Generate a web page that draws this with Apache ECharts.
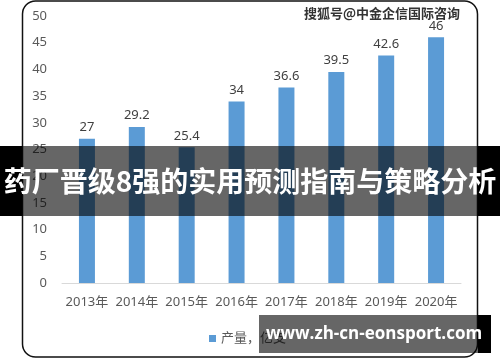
<!DOCTYPE html>
<html>
<head>
<meta charset="utf-8">
<script src="https://cdn.jsdelivr.net/npm/echarts@6/dist/echarts.min.js"></script>
<style>html,body{margin:0;padding:0;background:#fff;}#c{width:500px;height:362px;}</style>
</head>
<body>
<div id="c"></div>
<script>
var categories = ['2013年','2014年','2015年','2016年','2017年','2018年','2019年','2020年'];
var seriesName = '产量，亿支';
var values = [27, 29.2, 25.4, 34, 36.6, 39.5, 42.6, 46];
var yMin = 0, yMax = 50, yStep = 5;
var bannerText = '药厂晋级8强的实用预测指南与策略分析';
var watermarkText = '搜狐号@中金企信国际咨询';
var siteText = 'www.zh-cn-eonsport.com';

var FONT = '"Noto Sans", "Noto Sans CJK SC", sans-serif';
var chart = echarts.init(document.getElementById('c'), null, {renderer: 'canvas'});
chart.setOption({
  animation: false,
  backgroundColor: '#fff',
  textStyle: {fontFamily: FONT},
  grid: {left: 62, right: 39, top: 16, bottom: 79, containLabel: false},
  legend: {
    data: [seriesName], left: 204, top: 327, icon: 'rect', itemWidth: 7, itemHeight: 7, itemGap: 4,
    textStyle: {color: '#595959', fontSize: 13, fontFamily: FONT}
  },
  xAxis: {
    type: 'category', data: categories,
    axisLine: {lineStyle: {color: '#d9d9d9', width: 1}},
    axisTick: {show: false},
    axisLabel: {color: '#595959', fontSize: 13, margin: 13, interval: 0, fontFamily: FONT}
  },
  yAxis: {
    type: 'value', min: yMin, max: yMax, interval: yStep,
    axisLine: {show: false}, axisTick: {show: false}, splitLine: {show: false},
    axisLabel: {color: '#595959', fontSize: 13, margin: 15, fontFamily: FONT}
  },
  series: [{
    name: seriesName, type: 'bar', data: values, barWidth: 16,
    itemStyle: {color: '#5B9BD5'},
    label: {show: true, position: 'top', color: '#404040', fontSize: 13, distance: 5, fontFamily: FONT}
  }],
  graphic: [
    {type: 'rect', shape: {x: 22.5, y: 1, width: 455, height: 356, r: 13}, style: {fill: 'none', stroke: '#111', lineWidth: 1.5}, z: 100},
    {type: 'text', left: 303, top: 6, style: {text: watermarkText, fill: '#333', font: 'bold 13px "Noto Sans CJK SC"', stroke: '#fff', lineWidth: 2}, z: 100},
    {type: 'rect', shape: {x: 0, y: 146, width: 22, height: 70}, style: {fill: '#000'}, z: 101},
    {type: 'rect', shape: {x: 478, y: 146, width: 22, height: 70}, style: {fill: '#000'}, z: 101},
    {type: 'rect', shape: {x: 22, y: 146, width: 456, height: 70}, style: {fill: 'rgba(0,0,0,0.6)'}, z: 101},
    {type: 'text', x: 250, y: 181, style: {text: bannerText, fill: '#fff', font: 'bold 28px "Noto Sans CJK SC"', textAlign: 'center', textVerticalAlign: 'middle'}, z: 102},
    {type: 'rect', shape: {x: 259, y: 315, width: 219, height: 38}, style: {fill: 'rgba(0,0,0,0.6)'}, z: 101},
    {type: 'rect', shape: {x: 478, y: 315, width: 13, height: 38}, style: {fill: '#000'}, z: 101},
    {type: 'text', x: 374, y: 334, style: {text: siteText, fill: '#fff', font: 'bold 17px "Open Sans", "Noto Sans"', textAlign: 'center', textVerticalAlign: 'middle'}, z: 102}
  ]
});
</script>
</body>
</html>
